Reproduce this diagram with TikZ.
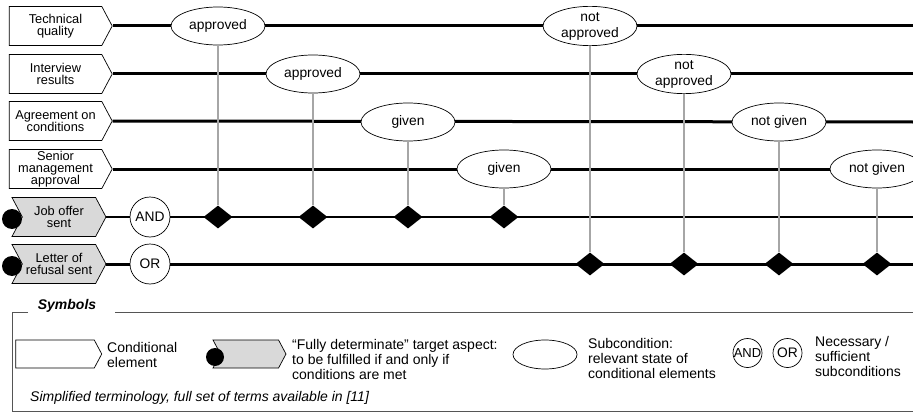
\documentclass[tikz,border=0pt]{standalone}
\usepackage{fontspec}
\setmainfont{Liberation Sans}
\usetikzlibrary{shapes.symbols,shapes.geometric}
\definecolor{targetgray}{HTML}{D9D9D9}
\definecolor{linkgray}{HTML}{A6A6A6}
\definecolor{framegray}{HTML}{555555}
\begin{document}
\begin{tikzpicture}[x=1pt,y=-1pt,
  labelfont/.style={font=\fontsize{12.8}{12}\selectfont},
  statefont/.style={font=\fontsize{13.8}{16}\selectfont},
  legendfont/.style={font=\fontsize{14}{15}\selectfont},
  condel/.style={signal, signal to=east, signal pointer angle=124,
    draw=black, line width=0.7pt, fill=white,
    minimum width=103pt, minimum height=39pt, inner sep=0pt,
    align=center, labelfont},
  target/.style={condel, signal from=west, fill=targetgray, minimum width=94pt},
  targetdot/.style={circle, fill=black, minimum size=20pt, inner sep=0pt},
  state/.style={ellipse, draw=black, line width=0.7pt, fill=white,
    minimum width=94pt, minimum height=38pt, inner sep=0pt,
    align=center, statefont},
  junctor/.style={circle, draw=black, line width=0.7pt, fill=white,
    minimum size=40pt, inner sep=0pt, statefont},
  gate/.style={diamond, fill=black, minimum width=29pt, minimum height=23pt,
    inner sep=0pt},
  mainline/.style={line width=3pt, black},
  thinline/.style={line width=1.5pt, black},
  link/.style={line width=2.9pt, linkgray},
  frame/.style={line width=0.8pt, framegray},
  legendtext/.style={align=left, anchor=west, inner sep=0pt, legendfont}
]
\useasboundingbox (0,0) rectangle (913,412);

% conditional elements and target aspects
\node[condel] (tq) at (55.5,26) {Technical\\quality};
\node[condel] (ir) at (55.5,74) {Interview\\results};
\node[condel] (ac) at (55.5,121) {Agreement on\\conditions};
\node[condel] (sm) at (55.5,169) {Senior\\management\\approval};
\node[target] (jo) at (59,217) {Job offer\\sent};
\node[target] (lr) at (59,264) {Letter of\\refusal sent};
\node[targetdot] (jodot) at (12,219) {};
\node[targetdot] (lrdot) at (12,266) {};

\node[junctor] (and) at (150,217) {AND};
\node[junctor] (or) at (150,264) {OR};

% right ends of the time lines
\coordinate (tqend) at (913,26);
\coordinate (irend) at (913,74);
\coordinate (acend) at (913,122);
\coordinate (smend) at (913,169);
\coordinate (joend) at (913,217);
\coordinate (lrend) at (913,264);

\draw[mainline] (tq.east) -- (tqend);
\draw[mainline] (ir.east) -- (irend);
\draw[mainline] (ac.east) -- (acend);
\draw[mainline] (sm.east) -- (smend);
\draw[thinline] (jo.east) -- (and.west);
\draw[thinline] (and.east) -- (joend);
\draw[mainline] (lr.east) -- (or.west);
\draw[mainline] (or.east) -- (lrend);

% subconditions
\node[state] (tqok) at (218,26) {approved};
\node[state] (irok) at (313,74) {approved};
\node[state] (acok) at (408,122) {given};
\node[state] (smok) at (504,169) {given};
\node[state] (tqno) at (590,26) {not\\approved};
\node[state] (irno) at (684,74) {not\\approved};
\node[state] (acno) at (779,122) {not given};
\node[state] (smno) at (877,169) {not given};

% junction points
\node[gate] (g1) at (218,217) {};
\node[gate] (g2) at (313,217) {};
\node[gate] (g3) at (408,217) {};
\node[gate] (g4) at (504,217) {};
\node[gate] (h1) at (590,264) {};
\node[gate] (h2) at (684,264) {};
\node[gate] (h3) at (779,264) {};
\node[gate] (h4) at (877,264) {};

\draw[link] (tqok.south) -- (g1.north);
\draw[link] (irok.south) -- (g2.north);
\draw[link] (acok.south) -- (g3.north);
\draw[link] (smok.south) -- (g4.north);
\draw[link] (tqno.south) -- (h1.north);
\draw[link] (irno.south) -- (h2.north);
\draw[link] (acno.south) -- (h3.north);
\draw[link] (smno.south) -- (h4.north);

% symbols legend
\node[font=\fontsize{14}{15}\selectfont\bfseries\itshape, inner sep=0pt] (symtitle) at (67,306) {Symbols};
\coordinate (frtl) at (12,312);
\coordinate (frbl) at (12,411);
\coordinate (frbr) at (913,411);
\coordinate (frtr) at (913,312);
\coordinate (frtitlel) at (28,312);
\coordinate (frtitler) at (115,312);
\draw[frame] (frtitlel) -- (frtl) -- (frbl) -- (frbr);
\draw[frame] (frtitler) -- (frtr);

\node[condel, minimum width=86pt, minimum height=28pt] (lgcond) at (55,354) {};
\node[legendtext] (lgcondtxt) at (107,355) {Conditional\\element};
\node[target, minimum width=73pt, minimum height=28pt] (lgtarget) at (249.5,354) {};
\node[targetdot, minimum size=18pt] (lgdot) at (215,357) {};
\node[legendtext] (lgtargettxt) at (292,359) {“Fully determinate” target aspect:\\to be fulfilled if and only if\\conditions are met};
\node[state, minimum width=64pt, minimum height=29pt] (lgstate) at (545,354.5) {};
\node[legendtext] (lgstatetxt) at (588,358) {Subcondition:\\relevant state of\\conditional elements};
\node[junctor, minimum size=29pt, font=\fontsize{13}{15}\selectfont] (lgand) at (747.5,353) {AND};
\node[junctor, minimum size=29pt] (lgor) at (787.5,353) {OR};
\node[legendtext] (lgjunctxt) at (815,356) {Necessary /\\sufficient\\subconditions};
\node[legendtext, font=\fontsize{14}{15}\selectfont\itshape] (lgnote) at (30,398) {Simplified terminology, full set of terms available in [11]};
\end{tikzpicture}
\end{document}
